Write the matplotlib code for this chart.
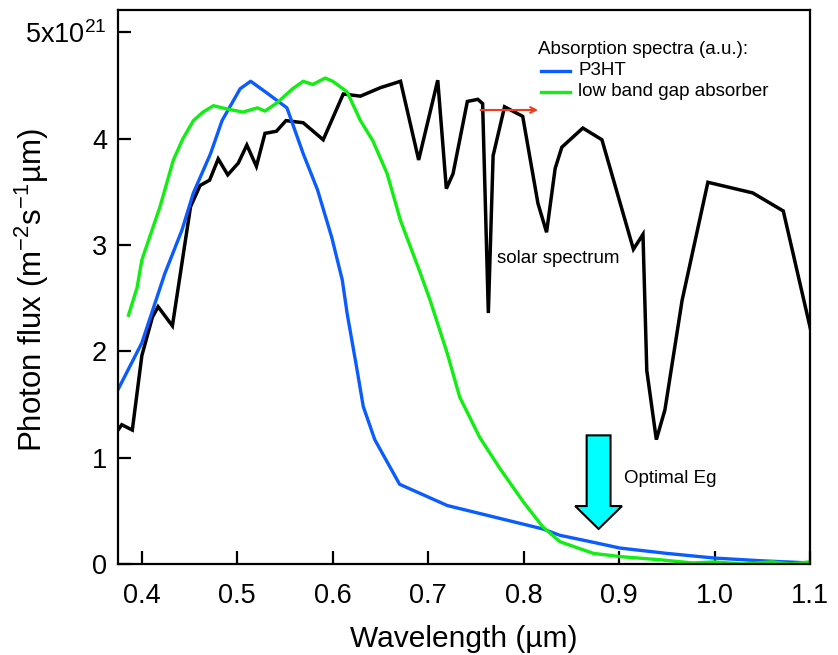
import numpy as np
import matplotlib
matplotlib.use("Agg")
import matplotlib.pyplot as plt
from matplotlib.patches import FancyArrow

plt.rcParams['font.family'] = ['Liberation Sans', 'DejaVu Sans']
plt.rcParams['mathtext.fontset'] = 'custom'
plt.rcParams['mathtext.rm'] = 'Liberation Sans'
plt.rcParams['mathtext.it'] = 'Liberation Sans'

# AM1.5 photon flux (units of 1e21 m^-2 s^-1 um^-1)
solar_wl = [0.375, 0.379, 0.390, 0.400, 0.411, 0.417, 0.432, 0.451, 0.461, 0.471,
            0.480, 0.490, 0.501, 0.510, 0.520, 0.529, 0.541, 0.551, 0.569, 0.590,
            0.611, 0.629, 0.650, 0.671, 0.690, 0.710, 0.719, 0.726, 0.741, 0.752,
            0.757, 0.763, 0.768, 0.780, 0.799, 0.815, 0.824, 0.833, 0.840, 0.862,
            0.882, 0.915, 0.925, 0.929, 0.939, 0.948, 0.966, 0.993, 1.040, 1.072, 1.101]
solar_flux = [1.26, 1.31, 1.26, 1.96, 2.32, 2.42, 2.24, 3.36, 3.56, 3.61,
              3.81, 3.66, 3.77, 3.94, 3.74, 4.05, 4.07, 4.17, 4.15, 3.99,
              4.42, 4.40, 4.48, 4.54, 3.80, 4.55, 3.53, 3.67, 4.35, 4.37,
              4.33, 2.36, 3.84, 4.30, 4.21, 3.39, 3.12, 3.72, 3.92, 4.10,
              3.99, 2.96, 3.10, 1.82, 1.17, 1.45, 2.48, 3.59, 3.49, 3.32, 2.19]

# P3HT absorption (a.u.)
p3ht_wl = [0.375, 0.400, 0.424, 0.442, 0.454, 0.472, 0.484, 0.503, 0.514, 0.531,
           0.552, 0.569, 0.584, 0.599, 0.610, 0.615, 0.625, 0.632, 0.644, 0.670,
           0.720, 0.770, 0.820, 0.838, 0.870, 0.901, 0.950, 1.000, 1.050, 1.100]
p3ht_abs = [1.64, 2.08, 2.73, 3.14, 3.49, 3.86, 4.17, 4.47, 4.54, 4.43,
            4.29, 3.86, 3.52, 3.07, 2.67, 2.36, 1.85, 1.48, 1.17, 0.75,
            0.55, 0.44, 0.33, 0.27, 0.21, 0.15, 0.10, 0.056, 0.03, 0.01]

# low band gap absorber (a.u.)
lbg_wl = [0.386, 0.395, 0.400, 0.419, 0.433, 0.443, 0.454, 0.464, 0.475, 0.489,
          0.506, 0.521, 0.529, 0.542, 0.558, 0.569, 0.579, 0.592, 0.600, 0.615,
          0.629, 0.642, 0.657, 0.671, 0.692, 0.702, 0.720, 0.733, 0.754, 0.775,
          0.800, 0.820, 0.838, 0.873, 0.901, 0.943, 0.977, 1.000, 1.030, 1.060,
          1.080, 1.100]
lbg_abs = [2.34, 2.60, 2.86, 3.36, 3.80, 4.00, 4.17, 4.25, 4.31, 4.28,
           4.25, 4.29, 4.26, 4.34, 4.47, 4.54, 4.51, 4.57, 4.54, 4.44,
           4.17, 3.98, 3.67, 3.23, 2.73, 2.48, 1.98, 1.57, 1.19, 0.90,
           0.58, 0.35, 0.21, 0.10, 0.07, 0.04, 0.01, 0.02, 0.0, 0.02,
           0.0, 0.02]

xticks = [0.4, 0.5, 0.6, 0.7, 0.8, 0.9, 1.0, 1.1]
yticks = [0, 1, 2, 3, 4, 5]
ytick_labels = ['0', '1', '2', '3', '4', r'5x10$^{21}$']

fig = plt.figure(figsize=(8.38, 6.55), dpi=100)
ax = fig.add_axes([0.1408, 0.1389, 0.8258, 0.8458])

ax.plot(solar_wl, solar_flux, color='black', lw=2.5, solid_joinstyle='miter')
ax.plot(p3ht_wl, p3ht_abs, color='#0a5cff', lw=2.4)
ax.plot(lbg_wl, lbg_abs, color='#11ee11', lw=2.4)

ax.set_xlim(0.375, 1.1)
ax.set_ylim(0, 5.21)
ax.set_xticks(xticks)
ax.set_xticklabels(['%.1f' % v for v in xticks])
ax.set_yticks(yticks)
ax.set_yticklabels(ytick_labels)
ax.tick_params(direction='in', length=9.5, width=1.6, labelsize=19.5)
ax.tick_params(axis='x', pad=14)
ax.tick_params(axis='y', pad=8)
for s in ax.spines.values():
    s.set_linewidth(1.6)

ax.set_xlabel('Wavelength (µm)', fontsize=21.5, labelpad=11)
ax.set_ylabel(r'Photon flux (m$^{-2}$s$^{-1}$µm)', fontsize=22.5)
ax.yaxis.set_label_coords(-0.097, 0.495)

# legend drawn by hand
ax.text(0.815, 4.84, 'Absorption spectra (a.u.):', fontsize=13.5, va='center')
ax.plot([0.818, 0.849], [4.64, 4.64], color='#0a5cff', lw=2.4)
ax.plot([0.818, 0.849], [4.44, 4.44], color='#11ee11', lw=2.4)
ax.text(0.857, 4.64, 'P3HT', fontsize=13.5, va='center')
ax.text(0.857, 4.44, 'low band gap absorber', fontsize=13.5, va='center')

ax.annotate('', xy=(0.818, 4.27), xytext=(0.752, 4.27),
            arrowprops=dict(arrowstyle='->', color='#f03c1e', lw=1.5))

ax.text(0.772, 2.87, 'solar spectrum', fontsize=13.5, va='center')

ax.add_patch(FancyArrow(0.8785, 1.21, 0, -0.88, width=0.025, head_width=0.049,
                        head_length=0.215, length_includes_head=True,
                        facecolor='#00ffff', edgecolor='black', lw=1.5, zorder=5))
ax.text(0.905, 0.80, 'Optimal Eg', fontsize=13.5, va='center')

fig.savefig('out.png', dpi=100)
